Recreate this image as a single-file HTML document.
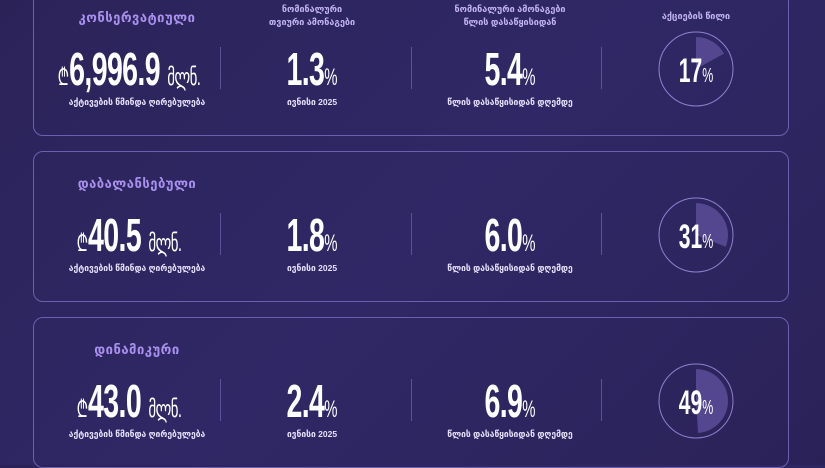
<!DOCTYPE html>
<html><head><meta charset="utf-8"><style>
body{margin:0;width:825px;height:465px;overflow:hidden;background:linear-gradient(135deg,#2b2358 0%,#302866 50%,#2a2257 100%);font-family:"Liberation Sans","DejaVu Sans",sans-serif;position:relative}
.card{position:absolute;left:33px;width:756px;height:151px;border:1px solid #6d5fb0;border-radius:10px;box-sizing:border-box}
.t{position:absolute;text-align:center;transform:translateX(-50%);white-space:nowrap}
.title{color:#a990ee;font-weight:bold;font-size:13px;letter-spacing:0.5px}
.hd{color:#c2b3f3;font-weight:bold;font-size:9px;line-height:13px}
.sub{color:#e6e0fa;font-weight:bold;font-size:8.5px}
.big{color:#fff;font-weight:bold;font-size:46px;line-height:46px;letter-spacing:-1px;transform:translateX(-50%) scaleX(0.62)}
.big small{font-size:24px;font-weight:normal;letter-spacing:0}
.big .u{font-size:24px;font-weight:normal}
.div{position:absolute;width:1px;height:42px;background:#5e519c}
svg{position:absolute;left:0;top:0}
</style></head><body>
<div id="root"></div>
<svg id="pies" width="825" height="465"></svg>
<script>
const titles=["კონსერვატიული","დაბალანსებული","დინამიკური"];
const navValues=["6,996.9","40.5","43.0"];
const monthly=["1.3","1.8","2.4"];
const ytd=["5.4","6.0","6.9"];
const equityShare=[17,31,49];
const root=document.getElementById('root');
const svg=document.getElementById('pies');
const NS="http://www.w3.org/2000/svg";
function add(html,name,css){const d=document.createElement('div');d.innerHTML=html;d.style.cssText=css;


root.appendChild(d);return d;}
titles.forEach((tt,i)=>{
 const top=-15+i*166;
 const c=document.createElement('div');c.className='card';c.style.top=top+'px';
 
 
 root.appendChild(c);
 let e;
 e=add(tt,'fund-title','');e.className='t title';e.style.left='137px';e.style.top=(top+25)+'px';
 if(i==0){
  e=add('ნომინალური<br>თვიური ამონაგები','monthly-return-header','');e.className='t hd';e.style.left='312px';e.style.top=(top+18)+'px';
  e=add('ნომინალური ამონაგები<br>წლის დასაწყისიდან','ytd-return-header','');e.className='t hd';e.style.left='510px';e.style.top=(top+18)+'px';
  e=add('აქციების წილი','equity-share-header','');e.className='t hd';e.style.left='696px';e.style.top=(top+25)+'px';
 }
 const ny=top+61;
 e=add('<small>₾</small>'+navValues[i]+' <span class="u">მლნ.</span>','net-asset-value','');e.className='t big';e.style.left='129px';e.style.top=ny+'px';
 e=add(monthly[i]+'<small>%</small>','monthly-return-value','');e.className='t big';e.style.left='312px';e.style.top=ny+'px';
 e=add(ytd[i]+'<small>%</small>','ytd-return-value','');e.className='t big';e.style.left='510px';e.style.top=ny+'px';
 const sy=top+112;
 e=add('აქტივების წმინდა ღირებულება','nav-label','');e.className='t sub';e.style.left='137px';e.style.top=sy+'px';
 e=add('ივნისი 2025','month-label','');e.className='t sub';e.style.left='312px';e.style.top=sy+'px';
 e=add('წლის დასაწყისიდან დღემდე','ytd-label','');e.className='t sub';e.style.left='510px';e.style.top=sy+'px';
 [220,411,601].forEach(x=>{const d=document.createElement('div');d.className='div';d.style.left=x+'px';d.style.top=(top+62)+'px';
  
  
  root.appendChild(d);});
 const cx=696,cy=top+84,R=37,r=32;
 const circ=document.createElementNS(NS,'circle');
 circ.setAttribute('cx',cx);circ.setAttribute('cy',cy);circ.setAttribute('r',R);
 circ.setAttribute('fill','none');circ.setAttribute('stroke','#8f80d0');circ.setAttribute('stroke-width','1');
 
 
 svg.appendChild(circ);
 const a=equityShare[i]/100*2*Math.PI;
 const x2=cx+r*Math.sin(a),y2=cy-r*Math.cos(a);
 const p=document.createElementNS(NS,'path');
 p.setAttribute('d',`M${cx},${cy} L${cx},${cy-r} A${r},${r} 0 ${a>Math.PI?1:0} 1 ${x2},${y2} Z`);
 p.setAttribute('fill','#54468f');
 
 
 svg.appendChild(p);
 const tx=document.createElementNS(NS,'text');
 tx.setAttribute('x',0);tx.setAttribute('y',13);tx.setAttribute('text-anchor','middle');
 tx.setAttribute('transform',`translate(${cx},${cy}) scale(0.62,1)`);
 tx.setAttribute('fill','#fff');tx.setAttribute('font-family','"Liberation Sans",sans-serif');
 tx.setAttribute('font-weight','bold');tx.setAttribute('font-size','34');
 tx.innerHTML=equityShare[i]+'<tspan font-size="20" font-weight="normal">%</tspan>';
 
 
 svg.appendChild(tx);
});
</script>
</body></html>
